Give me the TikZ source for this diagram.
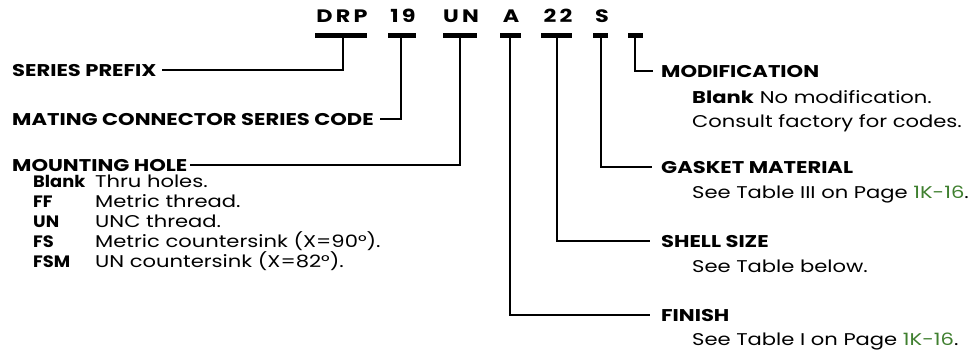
\documentclass[tikz,border=0pt]{standalone}
\usepackage{fontspec}
\setmainfont{Poppins}[FakeStretch=1.24]
\newfontfamily\subfont{Poppins}[FakeStretch=1.08]
\definecolor{lnk}{RGB}{63,127,47}
\begin{document}
\begin{tikzpicture}[x=1pt,y=-1pt,
  lbl/.style={font=\bfseries\fontsize{17}{18}\selectfont, inner sep=0pt, anchor=base west},
  sublbl/.style={font=\subfont\bfseries\fontsize{16.5}{18}\selectfont, inner sep=0pt, anchor=base west},
  txt/.style={font=\fontsize{17}{18}\selectfont, inner sep=0pt, anchor=base west},
  codetxt/.style={font=\bfseries\fontsize{18}{18}\selectfont\addfontfeature{LetterSpace=18}, inner sep=0pt, anchor=base},
  bar/.style={line width=5pt},
  conn/.style={line width=2pt}]
\useasboundingbox (0,0) rectangle (980,356);
% code letters
\node[codetxt] (tDRP) at (342,22) {DRP};
\node[codetxt] (t19)  at (403,22) {19};
\node[codetxt] (tUN)  at (461,22) {UN};
\node[codetxt] (tA)   at (511,22) {A};
\node[codetxt] (t22)  at (558,22) {22};
\node[codetxt] (tS)   at (602,22) {S};
% bars
\draw[bar] (315,35.5) -- (367,35.5);
\draw[bar] (388,35.5) -- (416,35.5);
\draw[bar] (443,35.5) -- (477,35.5);
\draw[bar] (500,35.5) -- (521,35.5);
\draw[bar] (541,35.5) -- (572,35.5);
\draw[bar] (593,35.5) -- (608,35.5);
\draw[bar] (628,35.5) -- (643,35.5);
% stem tops
\coordinate (sDRP) at (343,35.5);
\coordinate (s19)  at (401,35.5);
\coordinate (sUN)  at (460,35.5);
\coordinate (sA)   at (510,35.5);
\coordinate (s22)  at (557,35.5);
\coordinate (sS)   at (601,35.5);
\coordinate (sMod) at (635,35.5);
% left labels
\node[lbl] (sp) at (12,76) {SERIES PREFIX};
\node[lbl] (mc) at (12,125) {MATING CONNECTOR SERIES CODE};
\node[lbl] (mh) at (12,171) {MOUNTING HOLE};
\node[sublbl] (mh1) at (33,187) {Blank};
\node[sublbl] (mh2) at (33,207) {FF};
\node[sublbl] (mh3) at (33,227) {UN};
\node[sublbl] (mh4) at (33,247) {FS};
\node[sublbl] (mh5) at (33,267) {FSM};
\node[txt] (md1) at (95,187) {Thru holes.};
\node[txt] (md2) at (95,207) {Metric thread.};
\node[txt] (md3) at (95,227) {UNC thread.};
\node[txt] (md4) at (95,247) {Metric countersink (X=90°).};
\node[txt] (md5) at (95,267) {UN countersink (X=82°).};
% right labels
\node[lbl] (mo) at (661,77) {MODIFICATION};
\node[txt] (mo1) at (692,103) {\textbf{Blank}\hspace{6pt}No modification.};
\node[txt] (mo2) at (692,127) {Consult factory for codes.};
\node[lbl] (gm) at (661,173) {GASKET MATERIAL};
\node[txt] (gm1) at (692,198) {See Table III on Page \textcolor{lnk}{1K-16}.};
\node[lbl] (ss) at (661,247) {SHELL SIZE};
\node[txt] (ss1) at (692,272) {See Table below.};
\node[lbl] (fi) at (661,321) {FINISH};
\node[txt] (fi1) at (692,345) {See Table I on Page \textcolor{lnk}{1K-16}.};
% connectors
\draw[conn] (sDRP) |- ([xshift=5pt]sp.east);
\draw[conn] (s19) |- ([xshift=6pt]mc.east);
\draw[conn] (sUN) |- ([xshift=2pt]mh.east);
\draw[conn] (sMod) |- ([xshift=-8pt]mo.west);
\draw[conn] (sS) |- ([xshift=-9pt]gm.west);
\draw[conn] (s22) |- ([xshift=-11pt]ss.west);
\draw[conn] (sA) |- ([xshift=-11pt]fi.west);
\end{tikzpicture}
\end{document}
